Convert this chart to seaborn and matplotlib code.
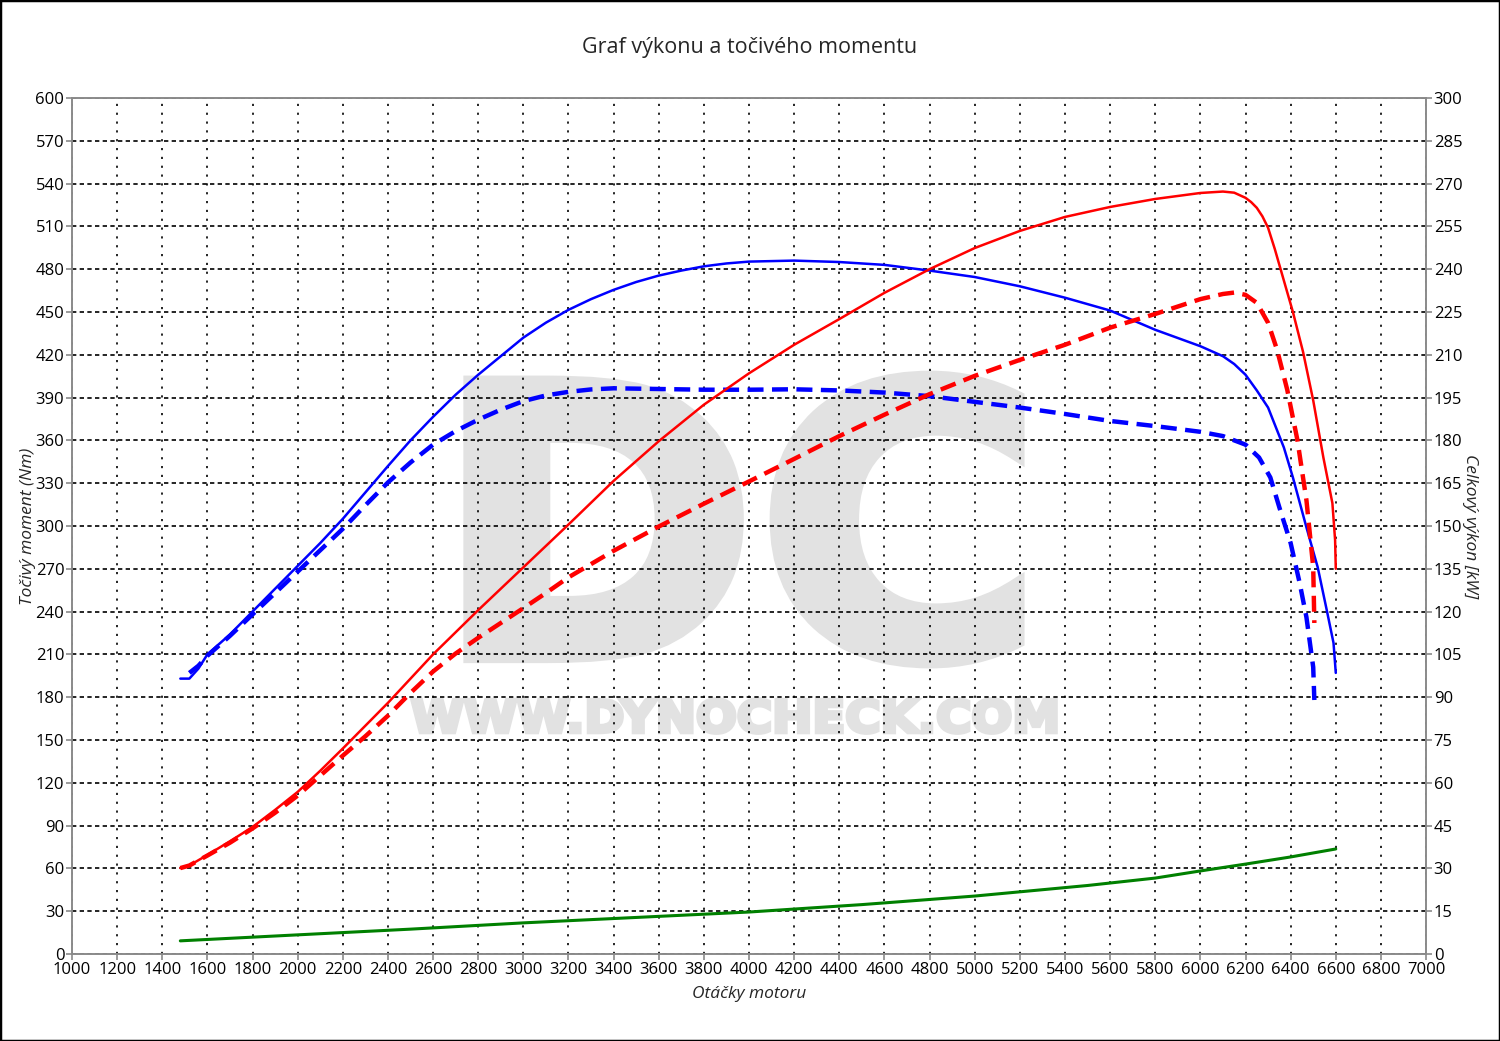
"""Dyno chart: power and torque, stock vs tuned."""

import matplotlib

matplotlib.use("Agg")

import matplotlib.pyplot as plt
import matplotlib.transforms as mtransforms
import pandas as pd
import seaborn as sns
from matplotlib.font_manager import FontProperties
from matplotlib.patches import PathPatch, Rectangle
from matplotlib.textpath import TextPath

# tuned torque (Nm)
rpm_tq_tuned = [1480, 1520, 1560, 1600, 1700, 1800, 1900, 2000, 2100, 2200, 2300, 2400,
                2500, 2600, 2700, 2800, 2900, 3000, 3100, 3200, 3300, 3400, 3500, 3600,
                3700, 3800, 3900, 4000, 4200, 4400, 4600, 4800, 5000, 5200, 5400, 5600,
                5800, 6000, 6100, 6150, 6200, 6250, 6300, 6370, 6410, 6470, 6520, 6560,
                6590, 6600]
tq_tuned = [193, 193, 200, 210, 224, 240, 256, 272, 288, 305, 323.5, 342,
            360, 376.5, 392, 406, 419, 432, 442.5, 451.5, 459, 465.5, 471, 475.5,
            479, 482, 484, 485.3, 486, 485, 483, 479, 474.5, 468, 460, 451,
            437.5, 426, 419, 413.5, 406, 395, 383, 355, 334, 299, 271, 241,
            218, 197]

# stock torque (Nm)
rpm_tq_stock = [1520, 1560, 1600, 1700, 1800, 1900, 2000, 2100, 2200, 2300, 2400, 2500,
                2600, 2700, 2800, 2900, 3000, 3100, 3200, 3300, 3400, 3600, 3800, 4000,
                4200, 4400, 4600, 4800, 5000, 5200, 5400, 5600, 5800, 6000, 6100, 6150,
                6200, 6260, 6310, 6350, 6400, 6440, 6470, 6500, 6505]
tq_stock = [197, 202, 209, 223, 238, 253, 268, 283, 298, 314.5, 330.5, 344.5,
            357, 366.5, 374.5, 381.5, 387.5, 391.5, 394, 395.7, 396.5, 396, 395.5, 395.5,
            395.8, 395, 393.5, 391, 387, 383, 378.5, 373.6, 370, 366, 363, 360,
            357, 348, 334, 313, 288, 260, 236, 201, 178]

# tuned power (kW)
rpm_pw_tuned = [1480, 1520, 1600, 1700, 1800, 1900, 2000, 2100, 2200, 2300, 2400, 2500,
                2600, 2800, 3000, 3200, 3400, 3600, 3800, 4000, 4200, 4400, 4600, 4800,
                5000, 5200, 5400, 5600, 5800, 6000, 6100, 6150, 6200, 6225, 6250, 6275,
                6300, 6330, 6410, 6455, 6500, 6545, 6585, 6597, 6600]
pw_tuned = [30.1, 31, 34.7, 39.5, 44.5, 50.5, 56.8, 64.2, 72, 80, 88, 96.5,
            105, 120.5, 135.5, 150.5, 165.8, 179.7, 192.5, 203.5, 213.5, 222.5, 231.7, 240,
            247.4, 253.4, 258.3, 261.8, 264.6, 266.7, 267.2, 266.8, 265, 263.5, 261.5, 258.5,
            254.5, 247, 225, 211, 194, 174, 158, 145, 135]

# stock power (kW)
rpm_pw_stock = [1480, 1520, 1600, 1700, 1800, 1900, 2000, 2100, 2200, 2300, 2400, 2500,
                2600, 2700, 2800, 2900, 3000, 3100, 3200, 3400, 3600, 3800, 4000, 4200,
                4400, 4600, 4800, 5000, 5200, 5400, 5600, 5800, 6000, 6100, 6150, 6200,
                6250, 6300, 6340, 6385, 6430, 6470, 6500, 6505]
pw_stock = [30.1, 31, 34.5, 39, 44, 49.5, 55.5, 62.5, 69.5, 76.3, 83.5, 91.5,
            99, 105.3, 110.8, 116, 121.2, 126.5, 132, 141.3, 149.8, 157.8, 165.6, 173.5,
            181.5, 189, 196.2, 202.6, 208.2, 213.5, 219.5, 224.3, 229.5, 231.3, 231.8, 231,
            228.2, 221.2, 211.7, 197.7, 180.1, 159, 135.6, 116]

# loss power (kW)
rpm_loss = [1480, 2000, 2500, 3000, 3500, 4000, 4500, 5000, 5500, 5800, 6000, 6200, 6400, 6600]
pw_loss = [4.6, 6.7, 8.7, 10.9, 12.8, 14.7, 17.3, 20.3, 24, 26.6, 29.1, 31.5, 34, 36.8]

x_ticks = list(range(1000, 7001, 200))
tq_ticks = list(range(0, 601, 30))
pw_ticks = list(range(0, 301, 15))

AXIS_GRAY = "#8a8a8a"


def stamp(ax, text, box, stroke, color="#e2e2e2"):
    """Draw a watermark text path stretched into box=(x0, x1, y0, y1) data coords."""
    x0, x1, y0, y1 = box
    tp = TextPath((0, 0), text, size=100, prop=FontProperties(family="DejaVu Sans", weight="bold"))
    bb = tp.get_extents()
    tr = (mtransforms.Affine2D()
          .translate(-bb.x0, -bb.y0)
          .scale((x1 - x0) / bb.width, (y1 - y0) / bb.height)
          .translate(x0, y0))
    ax.add_patch(PathPatch(tr.transform_path(tp), fc=color, ec=color, lw=stroke,
                           joinstyle="miter", zorder=0.2))


def line(ax, xs, ys, color, lw, ls="-"):
    df = pd.DataFrame({"rpm": xs, "val": ys})
    sns.lineplot(data=df, x="rpm", y="val", ax=ax, color=color, linewidth=lw,
                 linestyle=ls, estimator=None, sort=False, zorder=3)


def main() -> None:
    sns.set_theme(style="white")
    plt.rcParams["font.family"] = ["Open Sans", "DejaVu Sans"]
    plt.rcParams["font.size"] = 12

    fig = plt.figure(figsize=(15, 10.41), dpi=100)
    ax = fig.add_axes([0.048, 0.0836, 0.9027, 0.8223])
    ax2 = ax.twinx()

    # watermark boxes are inset by half the stroke width
    stamp(ax, "DC", (2765, 5190, 205, 404), stroke=10)
    stamp(ax, "WWW.DYNOCHECK.COM", (2508, 5359, 155, 178.5), stroke=3)

    ax.set_axisbelow(True)
    ax.yaxis.grid(True, color="black", linewidth=1.2, linestyle=(0, (2.6, 2.0)))
    ax.xaxis.grid(True, color="black", linewidth=1.2, linestyle=(0, (1.3, 4.0)))

    dash = (0, (3.6, 1.9))
    line(ax, rpm_tq_tuned, tq_tuned, "#0000ff", 1.8)
    line(ax, rpm_tq_stock, tq_stock, "#0000ff", 3.2, dash)
    line(ax2, rpm_pw_tuned, pw_tuned, "#ff0000", 1.8)
    line(ax2, rpm_pw_stock, pw_stock, "#ff0000", 3.2, dash)
    line(ax2, rpm_loss, pw_loss, "#008000", 2.2)

    ax.set_xlim(1000, 7000)
    ax.set_ylim(0, 600)
    ax2.set_ylim(0, 300)
    ax.set_xticks(x_ticks)
    ax.set_yticks(tq_ticks)
    ax2.set_yticks(pw_ticks)

    for a in (ax, ax2):
        for sp in a.spines.values():
            sp.set_color(AXIS_GRAY)
            sp.set_linewidth(1.2)
        a.tick_params(length=4.5, width=1.2, color=AXIS_GRAY, labelcolor="black",
                      labelsize=12, pad=1.0)
    ax.tick_params(left=True, bottom=True)
    ax2.tick_params(right=True)

    ax.set_xlabel("Otáčky motoru", fontsize=12.5, fontstyle="italic")
    ax.set_ylabel("Točivý moment (Nm)", fontsize=12.5, fontstyle="italic")
    ax2.set_ylabel("Celkový výkon [kW]", fontsize=12.5, fontstyle="italic", rotation=-90)
    ax.xaxis.set_label_coords(0.5, -0.037)
    ax.yaxis.set_label_coords(-0.0265, 0.5)
    ax2.yaxis.set_label_coords(1.0265, 0.5)
    ax2.yaxis.label.set_va("bottom")

    fig.text(0.5, 0.954, "Graf výkonu a točivého momentu", ha="center", va="center",
             fontsize=15.5)
    fig.patches.append(Rectangle((0, 0), 1, 1, transform=fig.transFigure, fill=False,
                                 edgecolor="black", linewidth=2.5))

    fig.savefig("out.png", dpi=100)
    plt.close(fig)


if __name__ == "__main__":
    main()
